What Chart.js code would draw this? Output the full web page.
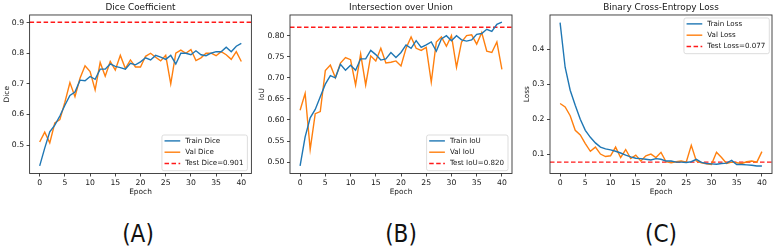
<!DOCTYPE html>
<html><head><meta charset="utf-8">
<script src="https://cdn.jsdelivr.net/npm/chart.js@4.4.1/dist/chart.umd.min.js"></script>
<style>
html,body{margin:0;padding:0;background:#fff;width:775px;height:249px;overflow:hidden;position:relative}
canvas{position:absolute;top:0}
.lab{position:absolute;top:220px;font-family:"Liberation Sans Narrow","DejaVu Sans Condensed",sans-serif;font-size:24px;color:#111;transform:translateX(-50%);line-height:28px;white-space:nowrap}
</style></head><body>
<canvas id="cA" width="258" height="200" style="left:0px;width:258px;height:200px"></canvas>
<canvas id="cB" width="262" height="200" style="left:256px;width:262px;height:200px"></canvas>
<canvas id="cC" width="262" height="200" style="left:518px;width:262px;height:200px"></canvas>
<div class="lab" style="left:138px">(A)</div>
<div class="lab" style="left:401px">(B)</div>
<div class="lab" style="left:661px">(C)</div>
<script>
const epochs = [0,1,2,3,4,5,6,7,8,9,10,11,12,13,14,15,16,17,18,19,20,21,22,23,24,25,26,27,28,29,30,31,32,33,34,35,36,37,38,39,40];
const xTicks = [0,5,10,15,20,25,30,35,40];

const trainDice = [0.432,0.490,0.543,0.565,0.595,0.630,0.662,0.673,0.712,0.710,0.724,0.715,0.748,0.748,0.765,0.757,0.753,0.748,0.767,0.762,0.772,0.785,0.778,0.793,0.787,0.780,0.793,0.765,0.800,0.800,0.795,0.808,0.795,0.792,0.800,0.805,0.805,0.820,0.805,0.823,0.832];
const valDice   = [0.510,0.542,0.507,0.572,0.583,0.640,0.704,0.658,0.718,0.759,0.740,0.680,0.770,0.725,0.773,0.745,0.793,0.750,0.778,0.755,0.755,0.790,0.800,0.787,0.775,0.793,0.700,0.800,0.810,0.800,0.812,0.776,0.785,0.800,0.800,0.792,0.805,0.795,0.780,0.805,0.773];
const testDice = 0.901;
const diceTicks = [0.5,0.6,0.7,0.8,0.9];
const diceTickLabels = ['0.5','0.6','0.7','0.8','0.9'];

const trainIoU = [0.491,0.560,0.605,0.625,0.655,0.685,0.705,0.700,0.732,0.718,0.730,0.718,0.745,0.745,0.765,0.755,0.742,0.745,0.760,0.748,0.760,0.778,0.770,0.788,0.772,0.778,0.785,0.763,0.792,0.800,0.788,0.800,0.790,0.787,0.790,0.803,0.805,0.815,0.810,0.827,0.832];
const valIoU   = [0.623,0.663,0.530,0.615,0.620,0.717,0.730,0.700,0.735,0.748,0.743,0.683,0.757,0.683,0.752,0.740,0.770,0.735,0.737,0.740,0.728,0.770,0.797,0.770,0.765,0.772,0.690,0.785,0.797,0.775,0.800,0.725,0.785,0.800,0.802,0.780,0.807,0.763,0.760,0.785,0.720];
const testIoU = 0.820;
const iouTicks = [0.50,0.55,0.60,0.65,0.70,0.75,0.80];
const iouTickLabels = ['0.50','0.55','0.60','0.65','0.70','0.75','0.80'];

const trainLoss = [0.477,0.349,0.283,0.240,0.200,0.168,0.148,0.132,0.120,0.115,0.112,0.108,0.103,0.097,0.092,0.088,0.087,0.085,0.083,0.087,0.085,0.080,0.080,0.077,0.077,0.076,0.078,0.085,0.076,0.073,0.072,0.071,0.073,0.074,0.082,0.070,0.070,0.069,0.068,0.066,0.066];
const valLoss   = [0.245,0.235,0.210,0.168,0.155,0.130,0.108,0.120,0.100,0.093,0.095,0.120,0.090,0.113,0.087,0.097,0.080,0.095,0.100,0.090,0.105,0.078,0.075,0.078,0.080,0.077,0.125,0.080,0.075,0.072,0.070,0.105,0.090,0.073,0.077,0.075,0.073,0.078,0.080,0.077,0.107];
const testLoss = 0.077;
const lossTicks = [0.1,0.2,0.3,0.4];
const lossTickLabels = ['0.1','0.2','0.3','0.4'];

const FONT = "'DejaVu Sans', sans-serif";
const TXT = '#161616';
const BLUE = '#1f77b4', ORANGE = '#ff7f0e', RED = '#ff1a1a';

const framePlugin = {
  id: 'frame',
  afterDatasetsDraw(chart) {
    const {ctx, chartArea: a} = chart;
    ctx.save();
    ctx.strokeStyle = '#333';
    ctx.lineWidth = 0.9;
    ctx.strokeRect(a.left, a.top, a.right - a.left, a.bottom - a.top);
    ctx.restore();
  }
};

const boxLegend = {
  id: 'boxLegend',
  afterDraw(chart, args, opts) {
    const {ctx, chartArea: a} = chart;
    ctx.save();
    ctx.font = "7.1px " + FONT;
    const ds = chart.data.datasets;
    let w = 0;
    ds.forEach(d => { w = Math.max(w, ctx.measureText(d.label).width); });
    const bw = 23.3 + w + 4, bh = 35.7;
    let x, y;
    if (opts.corner === 'lr') { x = a.right - 4 - bw; y = a.bottom - 2.8 - bh; }
    else { x = a.right - 2.7 - bw; y = a.top + 3; }
    ctx.beginPath();
    if (ctx.roundRect) ctx.roundRect(x, y, bw, bh, 2); else ctx.rect(x, y, bw, bh);
    ctx.fillStyle = 'rgba(255,255,255,0.85)';
    ctx.fill();
    ctx.strokeStyle = '#d4d4d4';
    ctx.lineWidth = 0.8;
    ctx.stroke();
    ds.forEach((d, i) => {
      const ry = y + 5.9 + i * 11.3;
      ctx.beginPath();
      ctx.setLineDash(d.borderDash || []);
      ctx.strokeStyle = d.borderColor;
      ctx.lineWidth = d.borderWidth;
      ctx.moveTo(x + 2.6, ry);
      ctx.lineTo(x + 18.3, ry);
      ctx.stroke();
      ctx.setLineDash([]);
      ctx.fillStyle = TXT;
      ctx.textBaseline = 'middle';
      ctx.textAlign = 'left';
      ctx.fillText(d.label, x + 23.3, ry);
    });
    ctx.restore();
  }
};

function pts(vals) { return epochs.map((e, i) => ({x: e, y: vals[i]})); }

function makeChart(id, cfg) {
  const datasets = [
    {label: cfg.names[0], data: pts(cfg.train), borderColor: BLUE, borderWidth: 1.4, pointRadius: 0, tension: 0, fill: false},
    {label: cfg.names[1], data: pts(cfg.val), borderColor: ORANGE, borderWidth: 1.4, pointRadius: 0, tension: 0, fill: false},
    {label: cfg.names[2], data: [{x: cfg.xmin, y: cfg.test}, {x: cfg.xmax, y: cfg.test}], borderColor: RED, borderWidth: 1.4, borderDash: [4.5, 2.5], pointRadius: 0, tension: 0, fill: false}
  ];
  return new Chart(document.getElementById(id), {
    type: 'line',
    data: {datasets},
    plugins: [framePlugin, boxLegend],
    options: {
      responsive: false, animation: false, devicePixelRatio: 1,
      layout: {padding: {left: 0, right: cfg.padR, top: 0, bottom: 0}},
      plugins: {
        legend: {display: false}, tooltip: {enabled: false},
        title: {display: true, text: cfg.title, fullSize: false, color: TXT,
                font: {family: FONT, size: 8.9, weight: 'normal'}, padding: {top: 1.9, bottom: 2.4}},
        boxLegend: {corner: cfg.corner}
      },
      scales: {
        x: {
          type: 'linear', min: cfg.xmin, max: cfg.xmax,
          afterBuildTicks: s => { s.ticks = xTicks.map(v => ({value: v})); },
          afterFit: s => { s.height = 26.5; },
          grid: {display: true, drawOnChartArea: false, drawTicks: true, tickLength: 3, tickColor: '#333', tickWidth: 0.9},
          border: {display: false},
          ticks: {color: TXT, font: {family: FONT, size: 7.7}, padding: 1.6, maxRotation: 0, autoSkip: false, callback: v => String(v)},
          title: {display: true, text: 'Epoch', color: TXT, font: {family: FONT, size: 7.4}, padding: {top: 0, bottom: 3.3}}
        },
        y: {
          type: 'linear', min: cfg.ymin, max: cfg.ymax,
          afterBuildTicks: s => { s.ticks = cfg.yTicks.map(v => ({value: v})); },
          afterFit: s => { s.width = cfg.yw; },
          grid: {display: true, drawOnChartArea: false, drawTicks: true, tickLength: 3, tickColor: '#333', tickWidth: 0.9},
          border: {display: false},
          ticks: {color: TXT, font: {family: FONT, size: 7.7}, padding: 2.5, autoSkip: false,
                  callback: (v, i) => cfg.yLabels[i]},
          title: {display: true, text: cfg.ylabel, color: TXT, font: {family: FONT, size: 7.4}, padding: {top: cfg.ytp, bottom: 0}}
        }
      }
    }
  });
}

makeChart('cA', {title: 'Dice Coefficient', ylabel: 'Dice', names: ['Train Dice', 'Val Dice', 'Test Dice=0.901'],
  train: trainDice, val: valDice, test: testDice, yTicks: diceTicks, yLabels: diceTickLabels,
  xmin: -2, xmax: 42, ymin: 0.407, ymax: 0.925, yw: 29.6, padR: 6.6, ytp: 2.2, corner: 'lr'});
makeChart('cB', {title: 'Intersection over Union', ylabel: 'IoU', names: ['Train IoU', 'Val IoU', 'Test IoU=0.820'],
  train: trainIoU, val: valIoU, test: testIoU, yTicks: iouTicks, yLabels: iouTickLabels,
  xmin: -2, xmax: 42, ymin: 0.473, ymax: 0.849, yw: 34, padR: 6, ytp: 1.2, corner: 'lr'});
makeChart('cC', {title: 'Binary Cross-Entropy Loss', ylabel: 'Loss', names: ['Train Loss', 'Val Loss', 'Test Loss=0.077'],
  train: trainLoss, val: valLoss, test: testLoss, yTicks: lossTicks, yLabels: lossTickLabels,
  xmin: -2, xmax: 42, ymin: 0.0443, ymax: 0.4987, yw: 32, padR: 8, ytp: 4.8, corner: 'ur'});
</script>
</body></html>
